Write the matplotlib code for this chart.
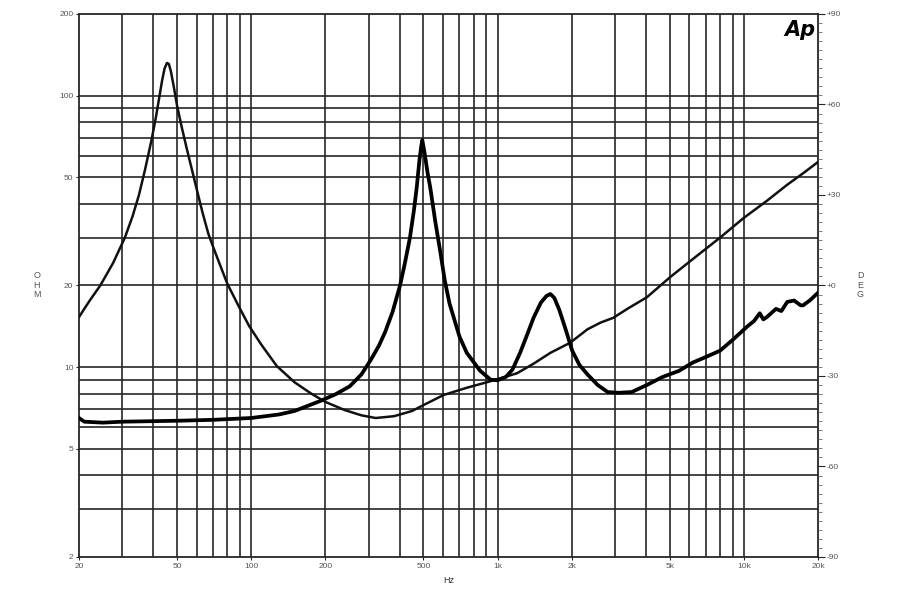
import matplotlib
matplotlib.use('Agg')
import matplotlib.pyplot as plt
from matplotlib.ticker import NullFormatter, FixedLocator

plt.rcParams['font.family'] = ['Liberation Sans', 'DejaVu Sans']

# 曲線 A（細線，低頻共振）
freq_a = [20, 21, 22.2, 24.4, 27.5, 30.7, 33, 35, 37, 39.3, 41, 42.3, 43.5,
          44.5, 45.5, 46.3, 47.2, 48.5, 50, 52, 54.5, 57, 60, 63.5, 67, 70,
          75, 80, 88, 98, 110, 127, 150, 175, 200, 240, 280, 320, 380, 450,
          500, 604, 750, 904, 1025, 1200, 1400, 1640, 1970, 2320, 2620, 2950,
          3400, 4040, 5030, 6200, 8000, 10000, 12400, 15000, 17500, 20000]
ohm_a = [15.3, 16.4, 17.7, 20, 24.2, 30, 36, 43, 53, 68, 83, 98, 114,
         126, 132, 131, 123, 108, 92, 78, 65, 55, 45.5, 37, 31, 27.8,
         23.6, 20.3, 17.1, 14.2, 12.1, 10.1, 8.8, 8.0, 7.45, 6.95, 6.65, 6.5,
         6.6, 6.9, 7.25, 7.9, 8.4, 8.8, 9.1, 9.5, 10.3, 11.3, 12.3, 13.8,
         14.6, 15.2, 16.5, 18.1, 21.5, 25, 30, 35.5, 41, 47, 52, 57]

# 曲線 B（粗線，500 Hz 共振）
freq_b = [20, 21, 25, 30, 50, 70, 100, 130, 150, 190, 220, 251, 280, 305, 330,
          350, 375, 402, 420, 441, 458, 470, 482, 490, 495, 505, 520, 533, 560,
          587, 610, 638, 700, 750, 850, 937, 1000, 1080, 1150, 1235, 1320,
          1400, 1500, 1580, 1640, 1700, 1780, 1880, 2010, 2150, 2320, 2550,
          2800, 3100, 3500, 4040, 4670, 5460, 6200, 7000, 8000, 9000, 10300,
          11000, 11600, 12000, 12400, 13500, 14200, 15000, 16000, 17000, 17400,
          18500, 20000]
ohm_b = [6.5, 6.3, 6.25, 6.3, 6.35, 6.4, 6.5, 6.7, 6.9, 7.5, 7.95, 8.5, 9.4,
         10.6, 12, 13.5, 16, 20, 24, 30, 38, 46, 58, 65, 68.6, 62, 52, 46, 34,
         26.3, 21, 17.2, 13, 11.3, 9.7, 9.0, 8.95, 9.2, 9.8, 11.3, 13.2,
         15.2, 17.3, 18.3, 18.6, 18.0, 16.3, 14, 11.5, 10.2, 9.4, 8.6,
         8.1, 8.05, 8.1, 8.6, 9.2, 9.7, 10.4, 10.9, 11.5, 12.6, 14.1,
         14.8, 15.8, 15.0, 15.3, 16.4, 16.1, 17.4, 17.6, 16.9, 16.9,
         17.6, 18.8]

x_grid = [30, 40, 50, 60, 70, 80, 90, 100, 200, 300, 400, 500, 600, 700, 800,
          900, 1000, 2000, 3000, 4000, 5000, 6000, 7000, 8000, 9000, 10000]
y_grid = [3, 4, 5, 6, 7, 8, 9, 10, 20, 30, 40, 50, 60, 70, 80, 90, 100]

x_ticks = [20, 50, 100, 200, 500, 1000, 2000, 5000, 10000, 20000]
x_labels = ['20', '50', '100', '200', '500', '1k', '2k', '5k', '10k', '20k']
y_ticks = [2, 5, 10, 20, 50, 100, 200]
y_labels = ['2', '5', '10', '20', '50', '100', '200']
deg_ticks = [-90, -60, -30, 0, 30, 60, 90]
deg_labels = ['-90', '-60', '-30', '+0', '+30', '+60', '+90']

grid_color = '#262626'
label_color = '#555555'

fig = plt.figure(figsize=(9, 6), dpi=100)
ax = fig.add_axes([0.0878, 0.0717, 0.8211, 0.905])

ax.set_xscale('log')
ax.set_yscale('log')
ax.set_xlim(20, 20000)
ax.set_ylim(2, 200)

for x in x_grid:
    ax.axvline(x, color=grid_color, lw=1.2, zorder=1)
for y in y_grid:
    ax.axhline(y, color=grid_color, lw=1.2, zorder=1)

ax.plot(freq_a, ohm_a, color='#111111', lw=1.8, zorder=3,
        solid_joinstyle='round')
ax.plot(freq_b, ohm_b, color='#000000', lw=2.7, zorder=3,
        solid_joinstyle='round')

ax.xaxis.set_major_locator(FixedLocator(x_ticks))
ax.xaxis.set_minor_locator(FixedLocator([]))
ax.set_xticklabels(x_labels)
ax.yaxis.set_major_locator(FixedLocator(y_ticks))
ax.yaxis.set_minor_locator(FixedLocator([]))
ax.yaxis.set_minor_formatter(NullFormatter())
ax.set_yticklabels(y_labels)
ax.tick_params(axis='both', length=2, width=0.8, color=grid_color,
               labelsize=6, labelcolor=label_color, pad=2)

for s in ax.spines.values():
    s.set_color(grid_color)
    s.set_linewidth(1.3)

ax2 = ax.twinx()
ax2.set_ylim(-90, 90)
ax2.set_yticks(deg_ticks)
ax2.set_yticklabels(deg_labels)
ax2.set_yticks(range(-90, 91, 3), minor=True)
ax2.tick_params(axis='y', which='major', length=5, width=0.8, color=grid_color,
                labelsize=6, labelcolor=label_color, pad=1)
ax2.tick_params(axis='y', which='minor', length=3, width=0.6, color='#666666')
for s in ax2.spines.values():
    s.set_visible(False)

fig.text(0.499, 0.033, 'Hz', fontsize=6.5, color='#333333', ha='center', va='center')
fig.text(0.041, 0.525, 'O\nH\nM', fontsize=6.5, color='#555555', ha='center',
         va='center', linespacing=1.1)
fig.text(0.956, 0.525, 'D\nE\nG', fontsize=6.5, color='#555555', ha='center',
         va='center', linespacing=1.1)
ax.text(0.997, 0.988, 'Ap', transform=ax.transAxes, fontsize=15,
        fontweight='heavy', fontstyle='italic', ha='right', va='top',
        color='black', zorder=5, family=['DejaVu Sans'])

fig.savefig('out.png', dpi=100)
